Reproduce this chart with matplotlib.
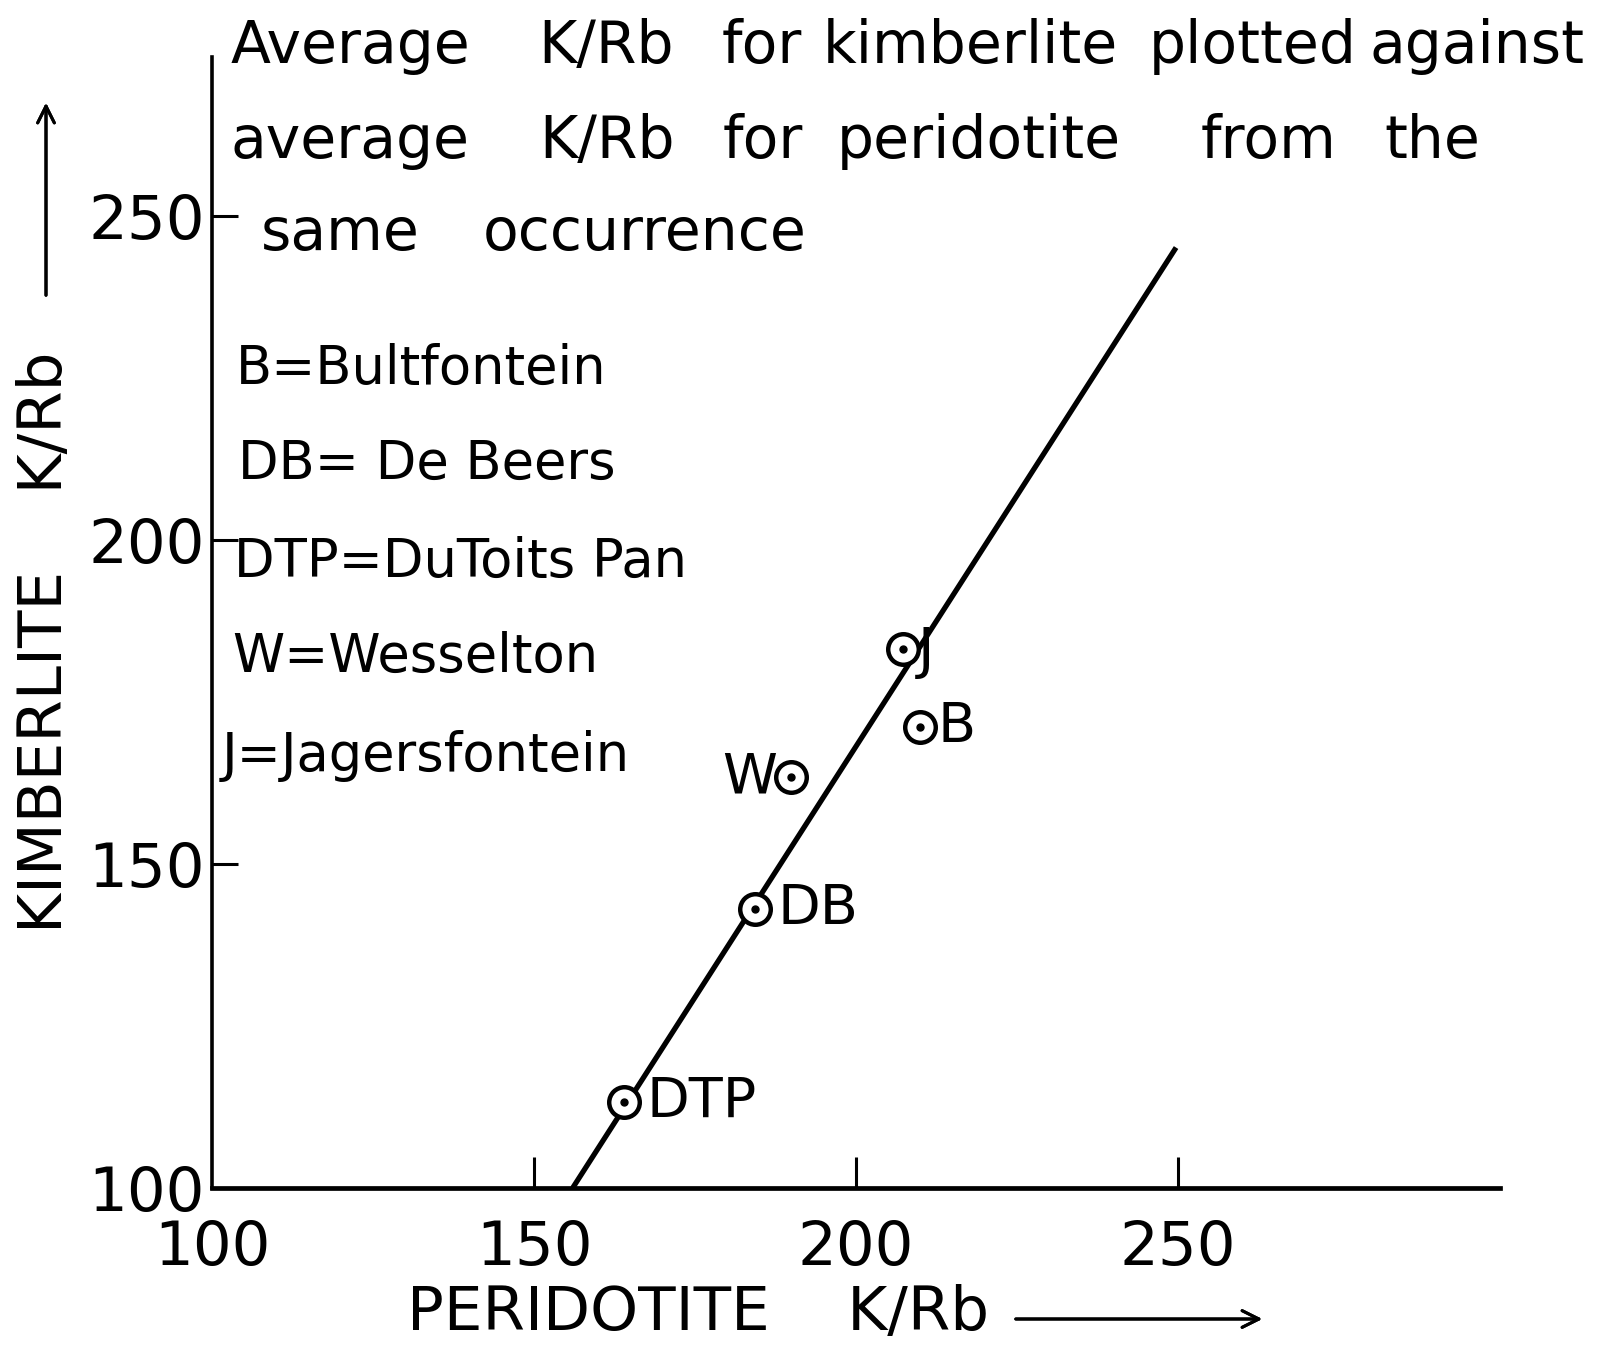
import numpy as np
import matplotlib.pyplot as plt

# average K/Rb, peridotite (x) vs kimberlite (y)
sites = ['J', 'B', 'W', 'DB', 'DTP']
peridotite_KRb = [207.3, 210.0, 189.9, 184.3, 164.0]
kimberlite_KRb = [183.2, 171.1, 163.4, 143.1, 113.3]

# hand-drawn trend line end points
trend_x = [156.0, 249.7]
trend_y = [100.0, 245.1]

legend_lines = ['B=Bultfontein', 'DB= De Beers', 'DTP=DuToits Pan',
                'W=Wesselton', 'J=Jagersfontein']
title_words = [['Average', 'K/Rb', 'for', 'kimberlite', 'plotted', 'against'],
               ['average', 'K/Rb', 'for', 'peridotite', 'from', 'the'],
               ['same', 'occurrence']]

xticks = [100, 150, 200, 250]
yticks = [100, 150, 200, 250]

plt.rcParams['font.family'] = ['DejaVu Sans']

W, H = 1597, 1352
fig = plt.figure(figsize=(W / 100, H / 100), dpi=100)
ax = fig.add_axes([212 / W, 1 - 1188 / H, (1500 - 212) / W, (1188 - 57) / H])

ax.set_xlim(100, 300)
ax.set_ylim(100, 274.5)
for s in ['top', 'right']:
    ax.spines[s].set_visible(False)
ax.spines['left'].set_linewidth(2.6)
ax.spines['bottom'].set_linewidth(3.4)

ax.plot(trend_x, trend_y, color='black', lw=3.8, solid_capstyle='butt')

ax.plot(peridotite_KRb, kimberlite_KRb, 'o', ms=22, mfc='white', mec='black', mew=3.2)
ax.plot(peridotite_KRb, kimberlite_KRb, 'o', ms=5, color='black')

offsets = {'J': (11, -2, 'left'), 'B': (12, 0, 'left'), 'W': (-10, 0, 'right'),
           'DB': (16, 0, 'left'), 'DTP': (16, 0, 'left')}
for name, x, y in zip(sites, peridotite_KRb, kimberlite_KRb):
    dx, dy, ha = offsets[name]
    ax.annotate(name, (x, y), xytext=(dx, dy), textcoords='offset points',
                ha=ha, va='center', fontsize=40)

ax.set_xticks(xticks)
ax.set_yticks(yticks)
ax.tick_params(axis='x', direction='in', length=22, width=2.2, pad=22, labelsize=44)
ax.tick_params(axis='y', direction='in', length=19, width=2.2, pad=5, labelsize=44)
ax.xaxis.get_major_ticks()[0].tick1line.set_visible(False)
ax.yaxis.get_major_ticks()[0].tick1line.set_visible(False)

# title block, word by word to follow the lettering's wide spacing
word_cx = [[350, 606, 762, 970, 1253, 1477],
           [350, 607, 763, 979, 1269, 1432],
           [340, 645]]
line_base = [63, 158, 250]
for words, xs, base in zip(title_words, word_cx, line_base):
    for w, px in zip(words, xs):
        fig.text(px / W, 1 - base / H, w, fontsize=42, ha='center', va='baseline')

# site key
key_x = [236, 238, 234, 232, 222]
key_base = [384, 479, 577, 672, 771]
for txt, kx, kb in zip(legend_lines, key_x, key_base):
    fig.text(kx / W, 1 - kb / H, txt, fontsize=38, va='baseline')

# axis labels with arrows
fig.text(698 / W, 1 - 1314 / H, 'PERIDOTITE    K/Rb', fontsize=44, ha='center', va='center')
fig.add_artist(plt.annotate('', xy=(1265 / W, 1 - 1319 / H), xytext=(1013 / W, 1 - 1319 / H),
                            xycoords='figure fraction',
                            arrowprops=dict(arrowstyle='->', lw=2.2, mutation_scale=30)))
fig.text(46 / W, 1 - 642 / H, 'KIMBERLITE    K/Rb', fontsize=44, rotation=90,
         ha='center', va='center')
fig.add_artist(plt.annotate('', xy=(46 / W, 1 - 100 / H), xytext=(46 / W, 1 - 298 / H),
                            xycoords='figure fraction',
                            arrowprops=dict(arrowstyle='->', lw=2.2, mutation_scale=30)))

fig.savefig('out.png', dpi=100)
